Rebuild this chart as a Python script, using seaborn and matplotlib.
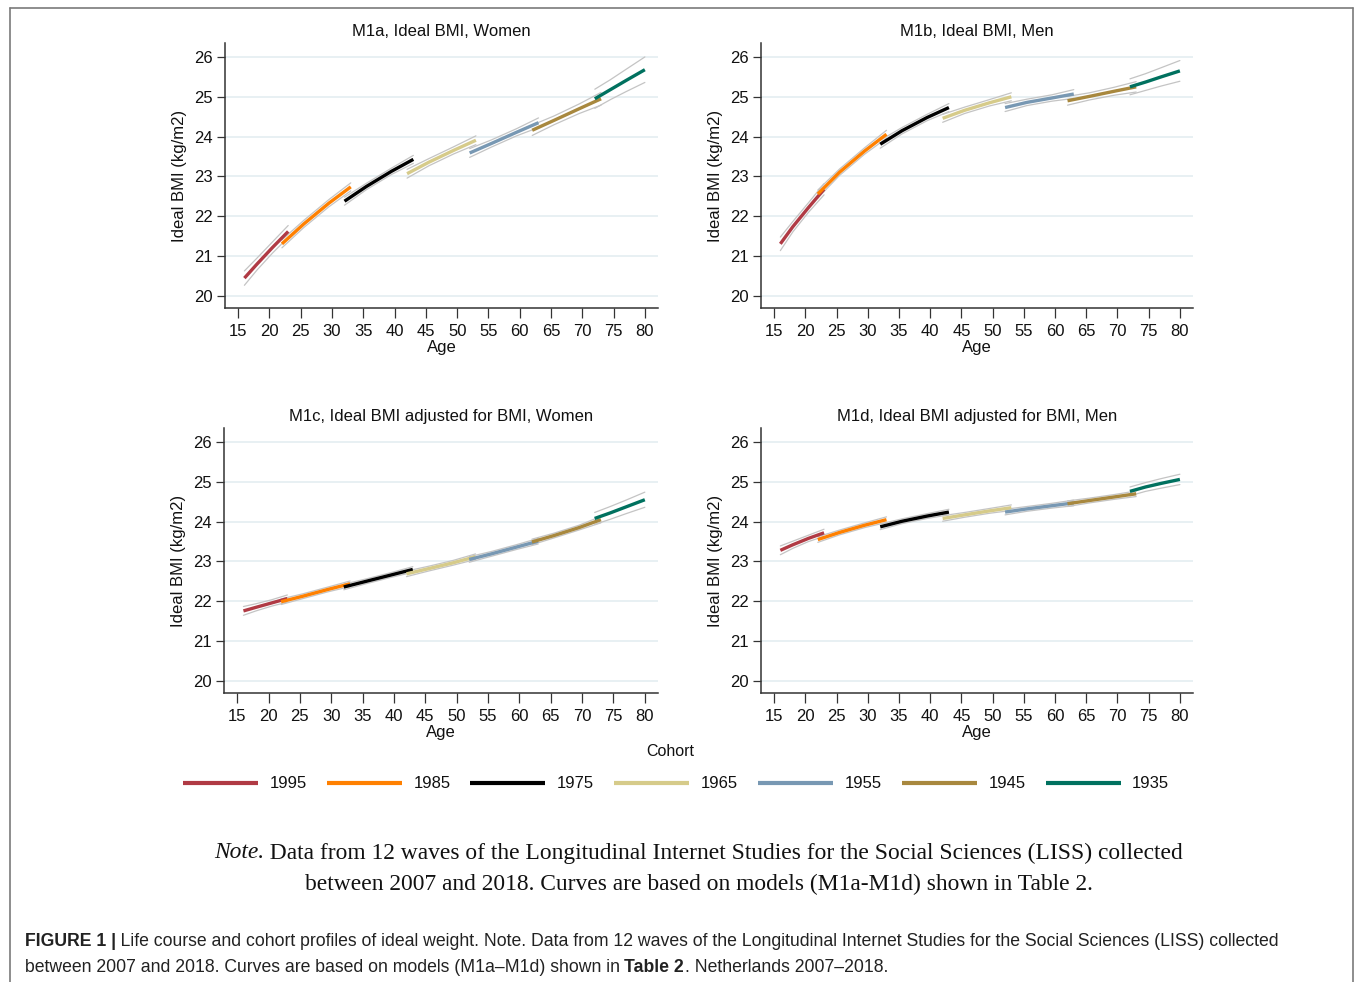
import numpy as np
import pandas as pd
import matplotlib
matplotlib.use("Agg")
import matplotlib.pyplot as plt
from matplotlib.lines import Line2D
import seaborn as sns

# cohorts and colours
cohorts = ['1995', '1985', '1975', '1965', '1955', '1945', '1935']
colors = ['#b03a44', '#ff8000', '#000000', '#d6cb8a', '#7898b3', '#a8883e', '#00715f']

# age points for each cohort (same in all panels)
ages = [[16, 18, 20.5, 23], [22, 25.5, 29.5, 33], [32, 35.5, 39.5, 43],
        [42, 45.5, 49.5, 53], [52, 55.5, 59.5, 63], [62, 65.5, 69.5, 73],
        [72, 74.5, 77, 80]]

# M1a women
m1a_bmi = [[20.45, 20.80, 21.22, 21.62], [21.31, 21.81, 22.33, 22.74],
           [22.38, 22.75, 23.13, 23.43], [23.07, 23.36, 23.66, 23.91],
           [23.59, 23.83, 24.11, 24.35], [24.16, 24.41, 24.70, 24.95],
           [24.95, 25.18, 25.41, 25.68]]
m1a_ci = [[0.18, 0.15, 0.14, 0.15], [0.10, 0.09, 0.09, 0.10],
          [0.10, 0.08, 0.08, 0.10], [0.11, 0.09, 0.09, 0.11],
          [0.11, 0.09, 0.09, 0.12], [0.13, 0.11, 0.12, 0.16],
          [0.24, 0.25, 0.28, 0.32]]

# M1b men
m1b_bmi = [[21.31, 21.74, 22.22, 22.68], [22.56, 23.11, 23.64, 24.06],
           [23.81, 24.15, 24.48, 24.73], [24.46, 24.66, 24.85, 25.00],
           [24.73, 24.86, 24.97, 25.07], [24.90, 25.01, 25.14, 25.25],
           [25.25, 25.37, 25.50, 25.65]]
m1b_ci = [[0.17, 0.13, 0.12, 0.14], [0.10, 0.08, 0.08, 0.10],
          [0.10, 0.08, 0.08, 0.10], [0.10, 0.08, 0.08, 0.10],
          [0.10, 0.08, 0.08, 0.11], [0.11, 0.09, 0.10, 0.13],
          [0.20, 0.21, 0.23, 0.26]]

# M1c women, adjusted
m1c_bmi = [[21.76, 21.85, 21.96, 22.07], [21.99, 22.13, 22.30, 22.44],
           [22.36, 22.50, 22.66, 22.80], [22.69, 22.82, 22.97, 23.12],
           [23.05, 23.19, 23.36, 23.51], [23.49, 23.65, 23.85, 24.05],
           [24.08, 24.22, 24.37, 24.55]]
m1c_ci = [[0.11, 0.09, 0.08, 0.09], [0.07, 0.06, 0.06, 0.07],
          [0.07, 0.06, 0.06, 0.07], [0.07, 0.06, 0.06, 0.07],
          [0.07, 0.06, 0.06, 0.07], [0.07, 0.06, 0.06, 0.08],
          [0.15, 0.16, 0.17, 0.19]]

# M1d men, adjusted
m1d_bmi = [[23.28, 23.42, 23.58, 23.72], [23.55, 23.73, 23.91, 24.05],
           [23.87, 24.01, 24.14, 24.24], [24.08, 24.17, 24.27, 24.35],
           [24.24, 24.32, 24.40, 24.47], [24.45, 24.53, 24.62, 24.70],
           [24.76, 24.87, 24.96, 25.06]]
m1d_ci = [[0.11, 0.09, 0.08, 0.09], [0.07, 0.06, 0.06, 0.07],
          [0.07, 0.06, 0.06, 0.07], [0.07, 0.06, 0.06, 0.07],
          [0.07, 0.06, 0.06, 0.07], [0.07, 0.06, 0.06, 0.07],
          [0.11, 0.11, 0.12, 0.13]]

panels = [
    ('M1a, Ideal BMI, Women', m1a_bmi, m1a_ci),
    ('M1b, Ideal BMI, Men', m1b_bmi, m1b_ci),
    ('M1c, Ideal BMI adjusted for BMI, Women', m1c_bmi, m1c_ci),
    ('M1d, Ideal BMI adjusted for BMI, Men', m1d_bmi, m1d_ci),
]

sns.set_style("white")
plt.rcParams['font.family'] = ['Liberation Sans', 'DejaVu Sans']

W, H = 1355, 982
fig = plt.figure(figsize=(W / 100, H / 100), dpi=100)

# axes boxes in pixels: left, top, right, bottom
boxes = [(225, 43, 658, 308), (761, 43, 1193, 308),
         (224, 428, 658, 693), (761, 428, 1193, 693)]

palette = dict(zip(cohorts, colors))

for (title, bmi, ci), (l, t, r, b) in zip(panels, boxes):
    ax = fig.add_axes([l / W, 1 - b / H, (r - l) / W, (b - t) / H])
    rows = []
    for c, a, m, e in zip(cohorts, ages, bmi, ci):
        for aa, mm, ee in zip(a, m, e):
            rows.append({'cohort': c, 'age': aa, 'bmi': mm, 'lo': mm - ee, 'hi': mm + ee})
    df = pd.DataFrame(rows)

    for col in ['lo', 'hi']:
        sns.lineplot(data=df, x='age', y=col, units='cohort', estimator=None,
                     color='#c4c4c4', linewidth=0.9, ax=ax, legend=False)
    sns.lineplot(data=df, x='age', y='bmi', hue='cohort', hue_order=cohorts,
                 palette=palette, estimator=None, linewidth=2.4, ax=ax,
                 legend=False, solid_capstyle='butt')

    ax.set_xlim(12.9, 82.1)
    ax.set_ylim(19.7, 26.35)
    ax.set_xticks(np.arange(15, 81, 5))
    ax.set_yticks(np.arange(20, 27, 1))
    ax.yaxis.grid(True, color='#e6eff2', linewidth=1.3)
    ax.xaxis.grid(False)
    ax.set_axisbelow(True)
    for s in ['top', 'right']:
        ax.spines[s].set_visible(False)
    for s in ['left', 'bottom']:
        ax.spines[s].set_color('#333333')
        ax.spines[s].set_linewidth(1.1)
    ax.tick_params(axis='x', direction='out', length=7, width=0.9, color='#333333',
                   labelsize=12, labelcolor='#111111', pad=4.5, bottom=True)
    ax.tick_params(axis='y', direction='out', length=6, width=0.9, color='#333333',
                   labelsize=12, labelcolor='#111111', pad=2.7, left=True)
    ax.set_title(title, fontsize=12, color='#111111', pad=5)
    ax.set_xlabel('Age', fontsize=12, color='#111111', labelpad=1)
    ax.set_ylabel('Ideal BMI (kg/m2)', fontsize=12, color='#111111', labelpad=5)

# legend
fig.text(670 / W, 1 - 752 / H, 'Cohort', ha='center', va='center', fontsize=11.5, color='#111111')
handles = [Line2D([0], [0], color=c, linewidth=3, solid_capstyle='butt') for c in colors]
fig.legend(handles, cohorts, loc='center', bbox_to_anchor=(676 / W, 1 - 784 / H),
           ncol=7, frameon=False, fontsize=12, handlelength=4.5, handletextpad=0.7,
           columnspacing=1.2, labelcolor='#111111')

# outer frame, open at the bottom
fc = '#7a7a7a'
fig.add_artist(Line2D([10 / W, 10 / W], [0, 1 - 8 / H], color=fc, linewidth=1.2))
fig.add_artist(Line2D([1353 / W, 1353 / W], [0, 1 - 8 / H], color=fc, linewidth=1.2))
fig.add_artist(Line2D([10 / W, 1353 / W], [1 - 8 / H, 1 - 8 / H], color=fc, linewidth=1.2))

fig.canvas.draw()
rend = fig.canvas.get_renderer()


def put_pieces(pieces, x0, y, size, family, color, center=False):
    # place text pieces side by side, each with its own weight/style
    texts = []
    x = x0
    for txt, weight, style in pieces:
        tt = fig.text(x / W, 1 - y / H, txt, ha='left', va='center', fontsize=size,
                      weight=weight, style=style, family=family, color=color)
        bb = tt.get_window_extent(rend)
        texts.append(tt)
        x = bb.x1 + 1
    if center:
        shift = -(x - x0) / 2
        for tt in texts:
            px, py = tt.get_position()
            tt.set_position((px + shift / W, py))


# note
serif = ['Liberation Serif', 'DejaVu Serif']
put_pieces([('Note.', 'normal', 'italic'),
            ('\u2009Data from 12 waves of the Longitudinal Internet Studies for the Social '
             'Sciences (LISS) collected', 'normal', 'normal')],
           699, 853, 16.9, serif, '#111111', center=True)
put_pieces([('between 2007 and 2018. Curves are based on models (M1a-M1d) shown in Table 2.',
             'normal', 'normal')], 699, 884, 16.9, serif, '#111111', center=True)

# caption with bold parts
sans = ['Liberation Sans', 'DejaVu Sans']
put_pieces([('FIGURE 1 |', 'bold', 'normal'),
            ('\u2009Life course and cohort profiles of ideal weight. Note. Data from 12 waves of the '
             'Longitudinal Internet Studies for the Social Sciences (LISS) collected', 'normal', 'normal')],
           25, 942, 12.7, sans, '#222222')
put_pieces([('between 2007 and 2018. Curves are based on models (M1a\u2013M1d) shown in\u2009', 'normal', 'normal'),
            ('Table 2', 'bold', 'normal'), ('. Netherlands 2007\u20132018.', 'normal', 'normal')],
           25, 967, 12.7, sans, '#222222')

fig.savefig('out.png', dpi=100)
